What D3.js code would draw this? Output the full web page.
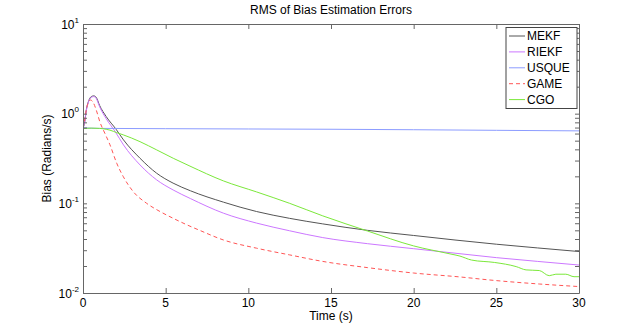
<!DOCTYPE html>
<html>
<head>
<meta charset="utf-8">
<script src="https://cdn.jsdelivr.net/npm/d3@7"></script>
<style>
  body { margin: 0; background: #fff; }
  text { font-family: "Liberation Sans", Arial, sans-serif; fill: #000; }
</style>
</head>
<body>
<div id="chart"></div>
<script>
const width = 640;
const height = 330;
const margin = { top: 24, right: 61, bottom: 37, left: 83 };

// values
const mekfT = [0, 0.1, 0.2, 0.35, 0.5, 0.65, 0.8, 1.0, 1.4, 2.0, 2.45, 3.45, 4.45, 5.45, 6.5, 8.5, 10.5, 12.5, 14.5, 17.2, 20, 22.5, 25, 27.5, 30];
const mekfV = [0.69, 0.8, 1.1, 1.4, 1.55, 1.58, 1.52, 1.24, 0.93, 0.67, 0.51, 0.318, 0.217, 0.168, 0.138, 0.103, 0.081, 0.068, 0.0590, 0.0500, 0.0438, 0.0390, 0.0350, 0.0318, 0.0290];

const riekfT = [0, 0.1, 0.2, 0.35, 0.5, 0.65, 0.8, 1.0, 1.4, 1.95, 2.45, 3.45, 4.45, 5.45, 6.5, 8.5, 10.5, 12.5, 14.5, 17.2, 20, 22.5, 25, 27.5, 30];
const riekfV = [0.69, 0.8, 1.08, 1.38, 1.52, 1.55, 1.48, 1.2, 0.88, 0.63, 0.448, 0.268, 0.183, 0.141, 0.113, 0.0776, 0.0602, 0.0494, 0.0415, 0.0355, 0.0312, 0.0278, 0.0248, 0.0225, 0.0205];

const usqueT = [0, 0.3, 1, 5, 10, 15, 20, 25, 30];
const usqueV = [0.70, 0.69, 0.685, 0.68, 0.675, 0.67, 0.662, 0.652, 0.643];

const gameT = [0, 0.1, 0.2, 0.3, 0.45, 0.6, 0.8, 1.03, 1.33, 1.63, 2.04, 2.44, 3.04, 3.85, 4.66, 5.46, 6.47, 7.0, 8.5, 10.5, 12.5, 14.5, 17.2, 20, 22.8, 24.9, 27.6, 30];
const gameV = [0.69, 0.85, 1.1, 1.3, 1.42, 1.35, 1.1, 0.8, 0.6, 0.45, 0.28, 0.198, 0.135, 0.1, 0.081, 0.068, 0.0556, 0.0505, 0.039, 0.0316, 0.0266, 0.0225, 0.0192, 0.0167, 0.0151, 0.0138, 0.0126, 0.0118];

const cgoT = [0, 0.5, 1.0, 1.4, 1.63, 2.04, 2.44, 3.45, 4.46, 5.46, 6.47, 8.49, 10.5, 12.5, 14.5, 17.2, 20, 22.2, 22.8, 23.5, 24.9, 26.2, 26.8, 27.6, 28.2, 28.6, 29.2, 29.7, 30];
const cgoV = [0.68, 0.69, 0.685, 0.67, 0.655, 0.614, 0.58, 0.487, 0.394, 0.318, 0.260, 0.178, 0.134, 0.100, 0.0725, 0.0492, 0.0335, 0.0273, 0.0258, 0.0233, 0.0219, 0.0197, 0.0181, 0.0178, 0.0156, 0.0162, 0.0162, 0.0152, 0.0152];

const seriesNames = ["MEKF", "RIEKF", "USQUE", "GAME", "CGO"];
const seriesColors = ["#555555", "#cc77ff", "#8c9cff", "#ff5555", "#7be83a"];
const seriesDash = [null, null, null, "4,3", null];
const seriesT = [mekfT, riekfT, usqueT, gameT, cgoT];
const seriesV = [mekfV, riekfV, usqueV, gameV, cgoV];

const xTicks = [0, 5, 10, 15, 20, 25, 30];
const yExponents = [-2, -1, 0, 1];

const svg = d3.select("#chart").append("svg")
  .attr("width", width)
  .attr("height", height);

const x = d3.scaleLinear().domain([0, 30]).range([margin.left, width - margin.right]);
const y = d3.scaleLog().domain([0.01, 10]).range([height - margin.bottom, margin.top]);

// minor + major log ticks
const yTickVals = [];
for (let e = -2; e < 1; e++) {
  for (let m = 1; m < 10; m++) yTickVals.push(m * Math.pow(10, e));
}
yTickVals.push(10);

svg.append("clipPath").attr("id", "plot-clip")
  .append("rect")
  .attr("x", margin.left).attr("y", margin.top)
  .attr("width", x(30) - x(0)).attr("height", y(0.01) - y(10));

// lines
const line = d3.line()
  .x((d) => x(d[0]))
  .y((d) => y(d[1]))
  .curve(d3.curveMonotoneX);

const plot = svg.append("g").attr("clip-path", "url(#plot-clip)");
seriesNames.forEach((name, i) => {
  const pts = seriesT[i].map((t, j) => [t, seriesV[i][j]]);
  plot.append("path")
    .datum(pts)
    .attr("fill", "none")
    .attr("stroke", seriesColors[i])
    .attr("stroke-width", 1)
    .attr("stroke-dasharray", seriesDash[i])
    .attr("d", line);
});

// axes, ticks pointing inward
const axisColor = "#666";
function styleAxis(g) {
  g.select(".domain").attr("stroke", axisColor);
  g.selectAll(".tick line").attr("stroke", axisColor);
  g.selectAll(".tick text").remove();
}

svg.append("g")
  .attr("transform", `translate(0,${height - margin.bottom})`)
  .call(d3.axisBottom(x).tickValues(xTicks).tickSize(-5).tickSizeOuter(0))
  .call(styleAxis);
svg.append("g")
  .attr("transform", `translate(0,${margin.top})`)
  .call(d3.axisTop(x).tickValues(xTicks).tickSize(-5).tickSizeOuter(0))
  .call(styleAxis);
svg.append("g")
  .attr("transform", `translate(${margin.left},0)`)
  .call(d3.axisLeft(y).tickValues(yTickVals).tickSize(-4).tickSizeOuter(0))
  .call(styleAxis);
svg.append("g")
  .attr("transform", `translate(${width - margin.right},0)`)
  .call(d3.axisRight(y).tickValues(yTickVals).tickSize(-4).tickSizeOuter(0))
  .call(styleAxis);

// tick labels
svg.append("g").selectAll("text")
  .data(xTicks)
  .enter()
  .append("text")
  .attr("x", (d) => x(d))
  .attr("y", 306.5)
  .attr("text-anchor", "middle")
  .style("font-size", "12px")
  .text((d) => d);

const yLab = svg.append("g").selectAll("text")
  .data(yExponents)
  .enter()
  .append("text")
  .attr("x", 79)
  .attr("y", (d) => y(Math.pow(10, d)) + 4.5)
  .attr("text-anchor", "end")
  .style("font-size", "12px");
yLab.append("tspan").text("10");
yLab.append("tspan")
  .attr("dy", -6)
  .style("font-size", "8px")
  .text((d) => d);

// title and axis labels
svg.append("text")
  .attr("x", (x(0) + x(30)) / 2)
  .attr("y", 14)
  .attr("text-anchor", "middle")
  .style("font-size", "12px")
  .text("RMS of Bias Estimation Errors");

svg.append("text")
  .attr("x", (x(0) + x(30)) / 2)
  .attr("y", 320)
  .attr("text-anchor", "middle")
  .style("font-size", "12px")
  .text("Time (s)");

svg.append("text")
  .attr("transform", "rotate(-90)")
  .attr("x", -(y(0.01) + y(10)) / 2)
  .attr("y", 51)
  .attr("text-anchor", "middle")
  .style("font-size", "12px")
  .text("Bias (Radians/s)");

// legend
const legend = svg.append("g").attr("transform", "translate(506,27.5)");
legend.append("rect")
  .attr("width", 71)
  .attr("height", 81)
  .attr("fill", "#fff")
  .attr("stroke", "#444")
  .attr("stroke-width", 1);
seriesNames.forEach((name, i) => {
  const cy = 8.5 + i * 15.9;
  legend.append("line")
    .attr("x1", 3).attr("x2", 19)
    .attr("y1", cy).attr("y2", cy)
    .attr("stroke", seriesColors[i])
    .attr("stroke-dasharray", seriesDash[i]);
  legend.append("text")
    .attr("x", 21)
    .attr("y", cy + 4.3)
    .style("font-size", "12px")
    .text(name);
});
</script>
</body>
</html>
